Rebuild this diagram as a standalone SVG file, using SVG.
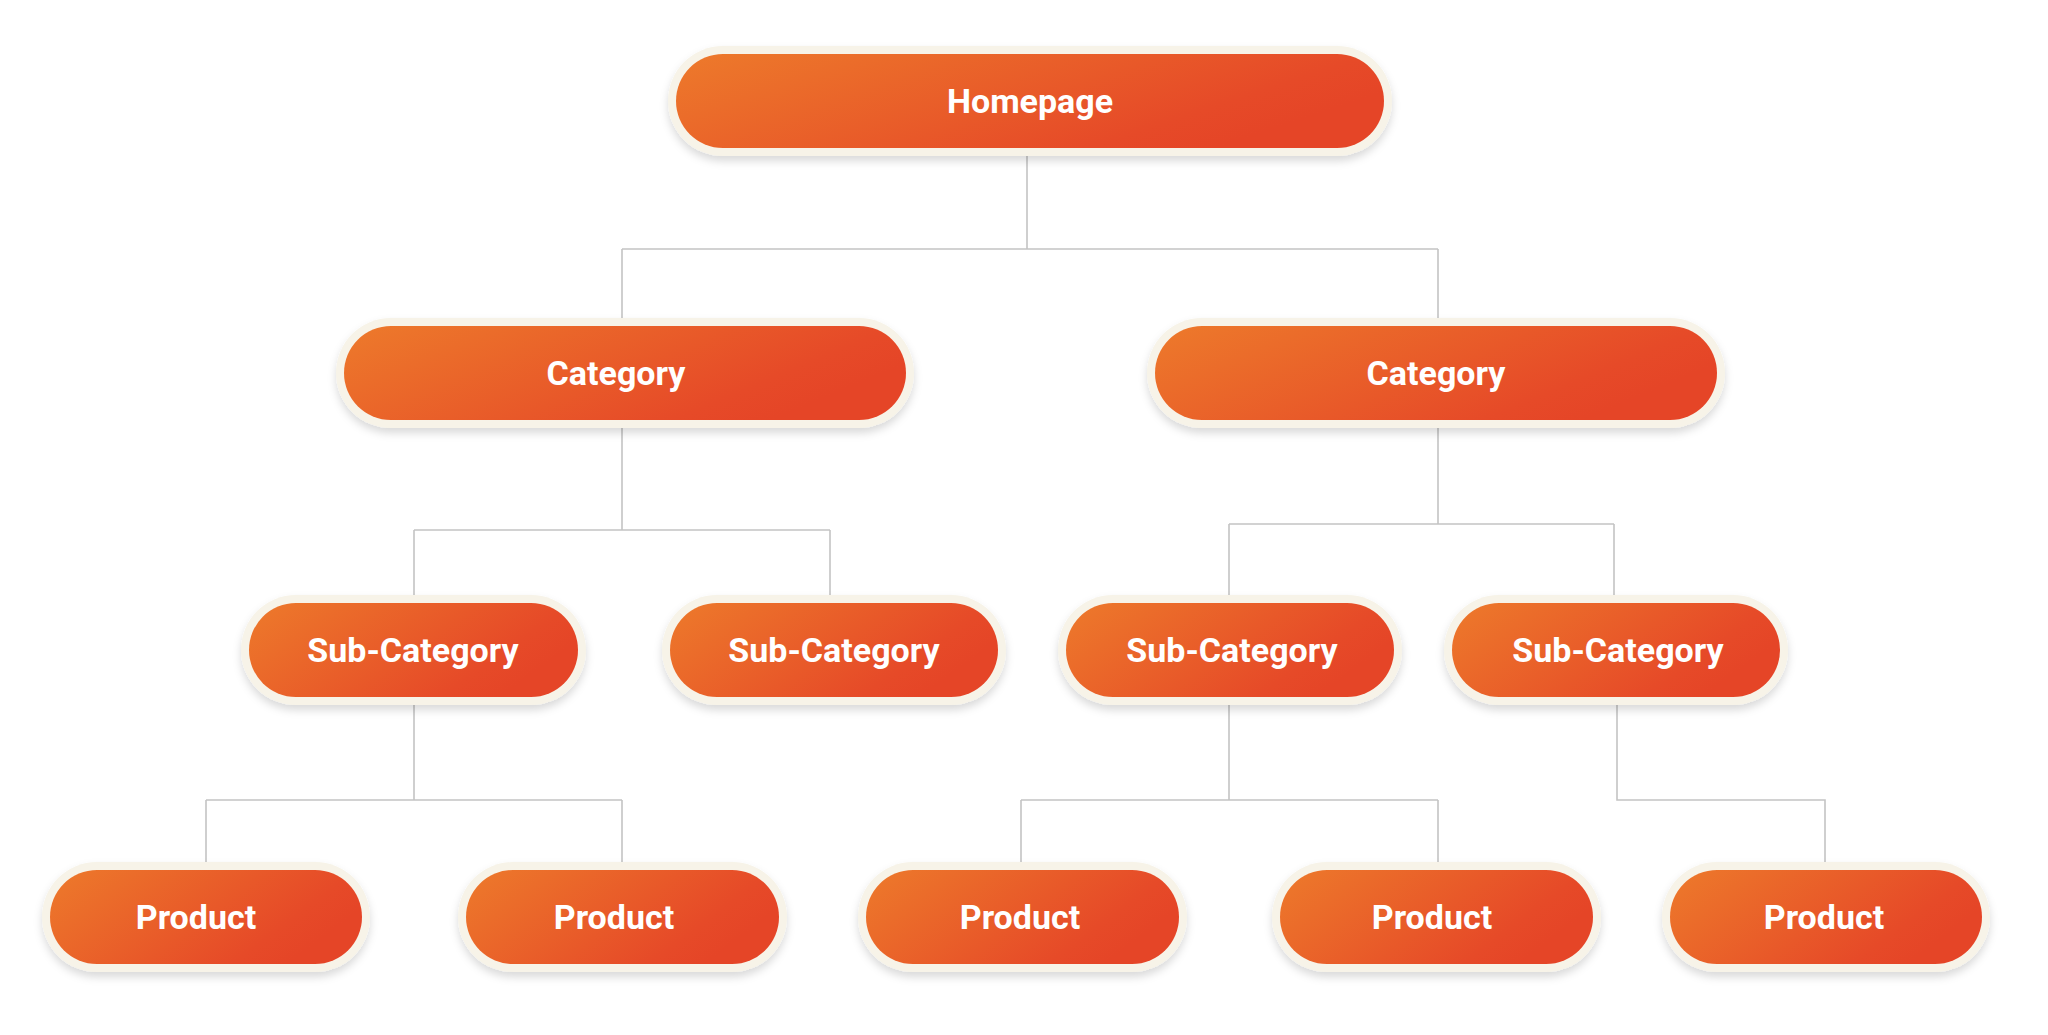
<svg xmlns="http://www.w3.org/2000/svg" width="2048" height="1035" viewBox="0 0 2048 1035">
<defs>
<linearGradient id="g" x1="0" y1="0" x2="1" y2="0.4">
<stop offset="0" stop-color="#ed7a2b"/><stop offset="0.85" stop-color="#e64a28"/><stop offset="1" stop-color="#e54527"/>
</linearGradient>
<filter id="sh" x="-10%" y="-30%" width="120%" height="170%">
<feDropShadow dx="0" dy="5" stdDeviation="4" flood-color="#000" flood-opacity="0.15"/>
</filter>
</defs>
<style>
.o{fill:#f7f3e8;filter:url(#sh)}
.i{fill:url(#g)}
.t{fill:#fff;font-family:Roboto,"Liberation Sans",sans-serif;font-weight:bold;font-size:34px;text-anchor:middle;dominant-baseline:central}
.c{stroke:#c4c4c4;stroke-width:1.6;fill:none}
</style>
<g id="connectors">
<path class="c" d="M1027 155V249M622 249H1438M622 249V318M1438 249V318"/>
<path class="c" d="M622 428V530M414 530H830M414 530V595M830 530V595"/>
<path class="c" d="M1438 428V524M1229 524H1614M1229 524V595M1614 524V595"/>
<path class="c" d="M414 705V800M206 800H622M206 800V862M622 800V862"/>
<path class="c" d="M1229 705V800M1021 800H1438M1021 800V862M1438 800V862"/>
<path class="c" d="M1617 705V800H1825V862"/>
</g>
<g id="homepage"><rect class="o" x="668" y="46" width="724" height="110" rx="55"/><rect class="i" x="676" y="54" width="708" height="94" rx="47"/><text class="t" x="1030" y="101">Homepage</text></g>
<g id="category1"><rect class="o" x="336" y="318" width="578" height="110" rx="55"/><rect class="i" x="344" y="326" width="562" height="94" rx="47"/><text class="t" x="616" y="373">Category</text></g>
<g id="category2"><rect class="o" x="1147" y="318" width="578" height="110" rx="55"/><rect class="i" x="1155" y="326" width="562" height="94" rx="47"/><text class="t" x="1436" y="373">Category</text></g>
<g id="sub1"><rect class="o" x="241" y="595" width="345" height="110" rx="55"/><rect class="i" x="249" y="603" width="329" height="94" rx="47"/><text class="t" x="413" y="650">Sub-Category</text></g>
<g id="sub2"><rect class="o" x="662" y="595" width="344" height="110" rx="55"/><rect class="i" x="670" y="603" width="328" height="94" rx="47"/><text class="t" x="834" y="650">Sub-Category</text></g>
<g id="sub3"><rect class="o" x="1058" y="595" width="344" height="110" rx="55"/><rect class="i" x="1066" y="603" width="328" height="94" rx="47"/><text class="t" x="1232" y="650">Sub-Category</text></g>
<g id="sub4"><rect class="o" x="1444" y="595" width="344" height="110" rx="55"/><rect class="i" x="1452" y="603" width="328" height="94" rx="47"/><text class="t" x="1618" y="650">Sub-Category</text></g>
<g id="product1"><rect class="o" x="42" y="862" width="328" height="110" rx="55"/><rect class="i" x="50" y="870" width="312" height="94" rx="47"/><text class="t" x="196" y="917">Product</text></g>
<g id="product2"><rect class="o" x="458" y="862" width="329" height="110" rx="55"/><rect class="i" x="466" y="870" width="313" height="94" rx="47"/><text class="t" x="614" y="917">Product</text></g>
<g id="product3"><rect class="o" x="858" y="862" width="329" height="110" rx="55"/><rect class="i" x="866" y="870" width="313" height="94" rx="47"/><text class="t" x="1020" y="917">Product</text></g>
<g id="product4"><rect class="o" x="1272" y="862" width="329" height="110" rx="55"/><rect class="i" x="1280" y="870" width="313" height="94" rx="47"/><text class="t" x="1432" y="917">Product</text></g>
<g id="product5"><rect class="o" x="1662" y="862" width="328" height="110" rx="55"/><rect class="i" x="1670" y="870" width="312" height="94" rx="47"/><text class="t" x="1824" y="917">Product</text></g>
</svg>
